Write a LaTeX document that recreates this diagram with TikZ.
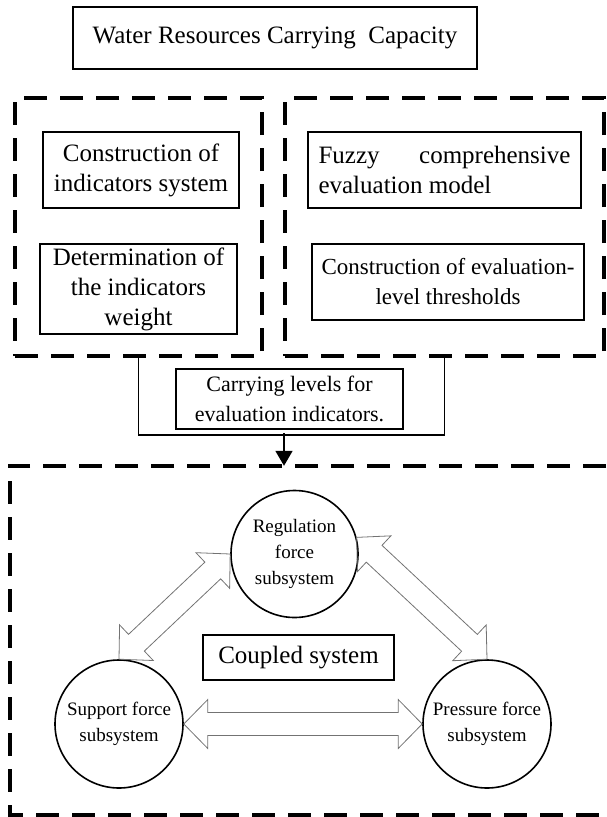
\documentclass[tikz,border=0pt]{standalone}
\usepackage{fontspec}
\setmainfont{Liberation Serif}
\usetikzlibrary{positioning, arrows.meta, calc}

% hollow two-headed block arrow between two anchors
\newcommand{\blockarrows}[3]{%
\coordinate (#1a) at ($(#2)!24pt!(#3)$);
\coordinate (#1b) at ($(#3)!24pt!(#2)$);
\draw[blockline] (#2) -- ($(#1a)!24.5pt!90:(#3)$) -- ($(#1a)!11.5pt!90:(#3)$) -- ($(#1b)!11.5pt!-90:(#2)$) -- ($(#1b)!24.5pt!-90:(#2)$) -- (#3) -- ($(#1b)!24.5pt!90:(#2)$) -- ($(#1b)!11.5pt!90:(#2)$) -- ($(#1a)!11.5pt!-90:(#3)$) -- ($(#1a)!24.5pt!-90:(#3)$) -- cycle;}

\begin{document}
\begin{tikzpicture}[x=1pt, y=-1pt,
  solidbox/.style={draw, line width=1.3pt, align=center, inner sep=0pt, font=\fontsize{25}{30}\selectfont},
  dashbox/.style={draw, line width=3.5pt, dash pattern=on 23pt off 13pt, inner sep=0pt},
  dashline/.style={line width=3.5pt, dash pattern=on 23pt off 13pt},
  subsys/.style={draw, circle, line width=1.6pt, minimum size=127pt, inner sep=0pt, align=center, font=\fontsize{19}{26}\selectfont},
  blockline/.style={draw=black!55, line width=0.8pt}]
\useasboundingbox (0,0) rectangle (606,817);
\node[solidbox, minimum width=404pt, minimum height=62pt] (wrcc) at (275,38) {Water Resources Carrying\ \ Capacity};
% evaluation part
\node[dashbox, minimum width=247pt, minimum height=258pt] (lbox) at (138.5,227) {};
\node[dashbox, minimum width=319pt, minimum height=258pt] (rbox) at (444.5,227) {};
\node[solidbox, minimum width=196pt, minimum height=76pt] (cis) at (141,170) {Construction of\\indicators system};
\node[solidbox, minimum width=197pt, minimum height=90pt] (diw) at (138.5,289) {Determination of\\the indicators\\weight};
\node[solidbox, minimum width=273pt, minimum height=76pt, text width=252pt, align=justify] (fce) at (444.5,170) {Fuzzy comprehensive\linebreak evaluation model};
\node[solidbox, minimum width=272pt, minimum height=76pt, font=\fontsize{23}{30}\selectfont] (cet) at (448,282) {Construction of evaluation-\\level thresholds};
\node[solidbox, minimum width=227pt, minimum height=60pt, font=\fontsize{22}{30}\selectfont] (clei) at (289.5,399) {Carrying levels for\\evaluation indicators.};
\draw[line width=1.8pt] (lbox.south) -- ++(0,77) -| (rbox.south);
\coordinate (join) at (284,433);
% coupled system
\node[minimum width=596pt, minimum height=349pt, inner sep=0pt] (cbox) at (308,640.5) {};
\draw[dashline] (cbox.north east) -- (cbox.north west) -- (cbox.south west) -- (cbox.south east);
\draw[line width=1.8pt, -{Triangle[width=17pt,length=15pt]}] (join) -- (join |- cbox.north);
\node[subsys] (reg) at (294.5,554) {Regulation\\force\\subsystem};
\node[subsys, minimum size=128pt] (sup) at (119,724) {Support force\\subsystem};
\node[subsys, minimum size=128pt] (pre) at (487,724) {Pressure force\\subsystem};
\node[solidbox, minimum width=191pt, minimum height=45pt] (cs) at (298.5,657.5) {Coupled system};
\blockarrows{sr}{sup.north}{reg.west}
\blockarrows{rp}{reg.15}{pre.north}
\blockarrows{sp}{sup.east}{pre.west}
\end{tikzpicture}
\end{document}
